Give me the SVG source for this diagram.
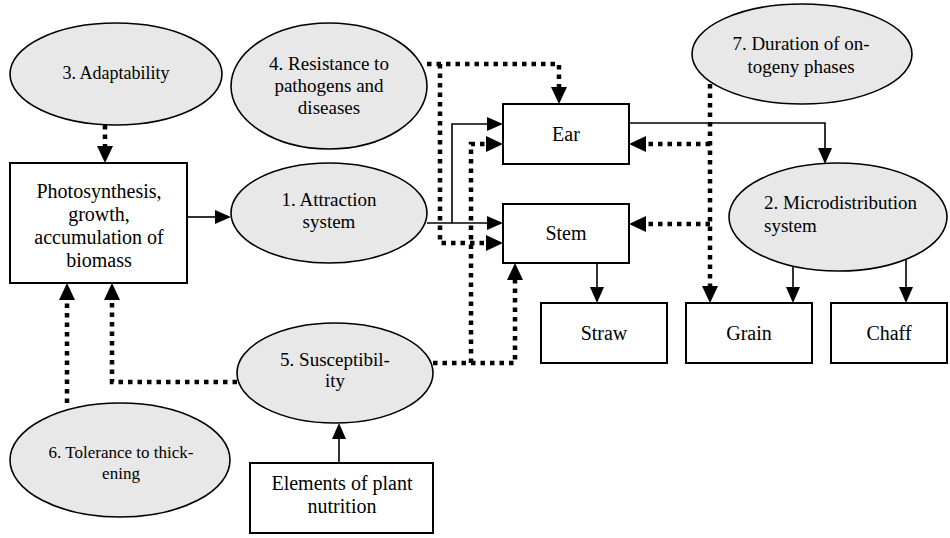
<svg xmlns="http://www.w3.org/2000/svg" width="950" height="538" viewBox="0 0 950 538" font-family="'Liberation Serif', 'Times New Roman', serif">
<style>
  .ell { fill: #e8e8e8; stroke: #000; stroke-width: 1.6; }
  .box { fill: #fff; stroke: #000; stroke-width: 2; }
  text { font-family: 'Liberation Serif', 'Times New Roman', serif; fill: #000; text-anchor: middle; }
  .t18 { font-size: 18px; }
  .t19 { font-size: 19px; }
  .t17 { font-size: 17px; }
  .t20 { font-size: 20px; }
  .solid { fill: none; stroke: #000; stroke-width: 1.6; marker-end: url(#arr); }
  .dot { fill: none; stroke: #000; stroke-width: 4.5; stroke-dasharray: 4.5 5; marker-end: url(#darr); }
</style>
<defs>
  <marker id="arr" markerUnits="userSpaceOnUse" markerWidth="16" markerHeight="14" refX="0" refY="7" orient="auto" overflow="visible">
    <path d="M0,0 L16,7 L0,14 Z" fill="#000"/>
  </marker>
  <marker id="darr" markerUnits="userSpaceOnUse" markerWidth="17" markerHeight="16" refX="0" refY="8" orient="auto" overflow="visible">
    <path d="M0,0 L17,8 L0,16 Z" fill="#000"/>
  </marker>
</defs>
<rect width="950" height="538" fill="#fff"/>

<g id="connectors">
  <path class="solid" d="M187,217 L215,217"/>
  <path class="solid" d="M427,223 L487,223"/>
  <path class="solid" d="M452,223 L452,124 L487,124"/>
  <path class="solid" d="M629,123 L825,123 L825,148"/>
  <path class="solid" d="M597,263 L597,287"/>
  <path class="solid" d="M793,265 L793,287"/>
  <path class="solid" d="M906,259 L906,287"/>
  <path class="solid" d="M339,463 L339,439"/>
  <path class="dot" d="M105,125 L105,146"/>
  <path class="dot" d="M427,64 L559,64 L559,87"/>
  <path class="dot" d="M440,64 L440,243 L486,243"/>
  <path class="dot" d="M710,84 L710,286"/>
  <path class="dot" d="M710,144 L646,144"/>
  <path class="dot" d="M710,224 L646,224"/>
  <path class="dot" d="M237,382 L112,382 L112,300"/>
  <path class="dot" d="M67,403 L67,300"/>
  <path class="dot" d="M433,363 L515,363 L515,280"/>
  <path class="dot" d="M471,363 L471,144 L486,144"/>
</g>

<g id="n3">
  <ellipse class="ell" cx="116" cy="74" rx="106" ry="51"/>
  <text class="t18" x="116" y="79">3. Adaptability</text>
</g>
<g id="n4">
  <ellipse class="ell" cx="329" cy="86" rx="98" ry="63"/>
  <text class="t19" x="329" y="70">4. Resistance to</text>
  <text class="t19" x="329" y="92">pathogens and</text>
  <text class="t19" x="329" y="114">diseases</text>
</g>
<g id="nP">
  <rect class="box" x="10" y="163" width="177" height="120"/>
  <text class="t20" x="99" y="198">Photosynthesis,</text>
  <text class="t20" x="99" y="221">growth,</text>
  <text class="t20" x="99" y="244">accumulation of</text>
  <text class="t20" x="99" y="267">biomass</text>
</g>
<g id="n1">
  <ellipse class="ell" cx="329" cy="213" rx="98" ry="50"/>
  <text class="t19" x="329" y="206">1. Attraction</text>
  <text class="t19" x="329" y="228">system</text>
</g>
<g id="nEar">
  <rect class="box" x="503" y="104" width="126" height="60"/>
  <text class="t20" x="566" y="141">Ear</text>
</g>
<g id="nStem">
  <rect class="box" x="503" y="204" width="126" height="59"/>
  <text class="t20" x="566" y="240">Stem</text>
</g>
<g id="n7">
  <ellipse class="ell" cx="802" cy="54" rx="110" ry="50"/>
  <text class="t19" x="801" y="50">7. Duration of on-</text>
  <text class="t19" x="801" y="73">togeny phases</text>
</g>
<g id="n2">
  <ellipse class="ell" cx="838" cy="217" rx="109" ry="54"/>
  <text class="t19" x="764" y="209" style="text-anchor:start">2. Microdistribution</text>
  <text class="t19" x="764" y="232" style="text-anchor:start">system</text>
</g>
<g id="nStraw">
  <rect class="box" x="541" y="303" width="126" height="60"/>
  <text class="t20" x="604" y="340">Straw</text>
</g>
<g id="nGrain">
  <rect class="box" x="686" y="303" width="126" height="60"/>
  <text class="t20" x="749" y="340">Grain</text>
</g>
<g id="nChaff">
  <rect class="box" x="831" y="303" width="116" height="60"/>
  <text class="t20" x="889" y="340">Chaff</text>
</g>
<g id="n5">
  <ellipse class="ell" cx="335" cy="373" rx="98" ry="50"/>
  <text class="t19" x="335" y="366">5. Susceptibil-</text>
  <text class="t19" x="335" y="387">ity</text>
</g>
<g id="n6">
  <ellipse class="ell" cx="120" cy="460" rx="110" ry="57"/>
  <text class="t17" x="121" y="458">6. Tolerance to thick-</text>
  <text class="t17" x="121" y="479">ening</text>
</g>
<g id="nElem">
  <rect class="box" x="250" y="463" width="183" height="70"/>
  <text class="t20" x="342" y="490">Elements of plant</text>
  <text class="t20" x="342" y="513">nutrition</text>
</g>
</svg>
